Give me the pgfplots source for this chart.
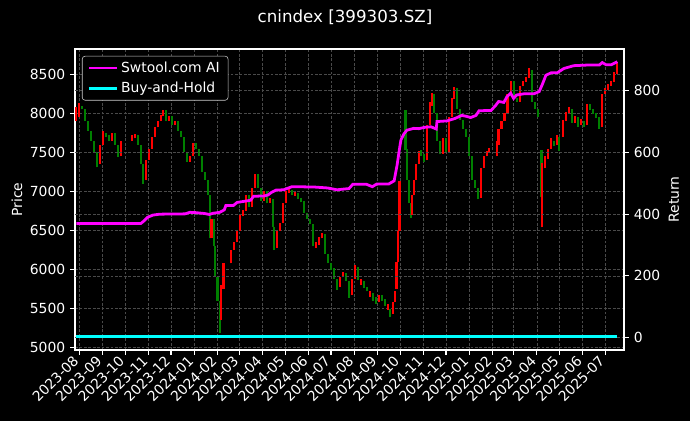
\documentclass[border=0pt]{standalone}
\usepackage{pgfplots}
\pgfplotsset{compat=1.18}
\usepackage{pgfplotstable}
\usepackage{fontspec}
\setmainfont{DejaVu Sans}

\definecolor{candleup}{HTML}{FF0000}
\definecolor{candledown}{HTML}{008000}
\definecolor{gridc}{HTML}{4A4A4A}
\definecolor{swtool}{HTML}{FF00FF}
\definecolor{bnh}{HTML}{00FFFF}

% day 0 = 2023-08-01; candles: body low / high
\pgfplotstableread{
d lo hi
-4 7900 8080
0 7950 8130
28 7350 7600
32 7600 7780
44 7650 7750
56 7450 7650
70 7650 7720
74 7680 7740
89 7150 7400
93 7400 7550
97 7550 7700
101 7700 7820
105 7820 7900
109 7900 7980
111 7960 8040
119 7900 7960
127 7850 7900
147 7380 7460
151 7460 7620
176 6400 6650
189 5350 5800
192 5750 6080
202 6080 6250
206 6250 6350
210 6350 6500
214 6500 6700
218 6680 6760
222 6750 6950
230 6800 7050
234 7050 7230
246 6880 7000
254 6850 6920
263 6280 6500
267 6500 6600
271 6600 6850
275 6850 7000
279 6980 7050
287 6940 6990
315 6280 6350
319 6320 6420
323 6400 6470
347 5780 5900
351 5900 5970
363 5680 5880
367 5880 6060
375 5800 5880
387 5650 5720
399 5580 5680
411 5480 5560
418 5430 5580
420 5580 5720
422 5750 6100
424 6100 6500
426 6500 7140
443 6700 6950
445 6950 7150
448 7150 7350
452 7350 7520
463 7400 7850
467 7850 8150
469 8100 8260
484 7480 7680
492 7500 7950
496 7950 8200
499 8180 8340
535 6920 7300
539 7300 7450
543 7450 7520
545 7500 7560
556 7450 7650
558 7600 7800
562 7800 7900
566 7900 8000
570 8000 8250
574 8250 8420
586 8150 8350
590 8350 8420
594 8400 8460
598 8450 8580
616 6540 7360
620 7300 7450
624 7420 7550
628 7550 7680
636 7600 7720
644 7700 7920
648 7900 8020
652 8000 8080
660 7880 7960
668 7850 7930
676 7850 8120
696 7820 8250
700 8250 8320
704 8300 8370
708 8350 8420
712 8400 8530
716 8500 8660
}\upT

\pgfplotstableread{
d lo hi
4 8050 8100
8 7900 8050
12 7780 7900
16 7650 7780
20 7500 7650
24 7310 7500
36 7700 7750
40 7650 7720
48 7600 7750
52 7440 7600
78 7600 7720
82 7350 7600
85 7100 7350
115 7900 8040
123 7850 7960
131 7780 7900
135 7700 7780
139 7500 7700
143 7380 7500
155 7550 7620
159 7450 7550
163 7250 7450
167 7150 7250
171 6950 7150
174 6400 6950
179 6300 6650
181 5900 6300
184 5600 5900
187 5190 5600
226 6800 6950
238 7050 7220
242 6880 7050
250 6850 7000
258 6550 6900
259 6250 6550
283 6950 7020
291 6900 6980
295 6860 6920
299 6720 6880
303 6650 6720
307 6580 6650
311 6300 6580
327 6200 6460
331 6080 6200
335 6000 6090
339 5880 6020
343 5740 5880
355 5850 5960
359 5640 5850
371 5870 6030
379 5760 5860
383 5720 5780
391 5600 5700
395 5560 5650
403 5600 5670
407 5540 5620
414 5390 5500
434 7530 8040
436 7150 7550
439 6850 7150
441 6660 6850
455 7460 7530
459 7380 7480
472 8000 8250
476 7650 8000
480 7480 7650
488 7500 7680
503 8050 8320
507 7920 8050
511 7800 7920
515 7700 7800
519 7450 7700
523 7150 7450
527 7050 7150
531 6900 7050
578 8200 8420
582 8150 8200
602 8150 8550
606 8050 8150
610 7950 8050
615 6930 7530
632 7580 7650
638 7520 7700
656 7880 8050
664 7830 7950
672 7820 7900
680 8040 8120
684 7990 8060
688 7940 8000
692 7800 7950
}\downT

\pgfplotstableread{
d r
-4 370
82 370
86 378
91 390
98 397
107 400
141 401
147 406
155 405
167 402
173 399
178 403
187 406
193 414
195 428
205 428
210 438
223 443
228 445
232 458
246 459
251 462
256 471
262 478
272 479
283 489
312 488
330 485
343 479
359 483
364 497
382 497
390 489
396 498
412 498
419 508
423 560
426 610
428 640
432 660
436 672
445 678
452 677
459 681
468 683
475 676
476 700
489 702
500 710
509 720
515 717
521 713
528 720
532 735
548 736
554 752
558 765
565 762
569 780
574 792
578 775
582 786
592 790
605 790
612 797
616 819
621 850
628 858
636 858
645 872
658 881
676 883
692 883
696 891
701 884
708 884
716 894
}\aiT

\pgfplotstableread{
d r
-4 5
200 5
400 5
600 5
716 5
}\bhT

\pgfplotsset{
  base/.style={
    at={(0,0)}, anchor=south west,
    scale only axis, width=395.28pt, height=216.72pt,
    xmin=-5.7, xmax=724.9,
    tick align=outside, major tick length=3.5pt,
    tick style={white, line width=0.8pt},
    axis line style={white, line width=0.8pt},
    tick label style={font=\fontsize{10}{12}\selectfont, text=white},
    major grid style={gridc, dash pattern=on 2pt off 1.2pt, line width=0.5pt},
    /pgf/number format/assume math mode=true,
    /pgf/number format/1000 sep={},
  },
  candle/.style={draw=#1, line width=1.6pt, mark=none, forget plot,
    quiver={u=0, v=\thisrow{hi}-\thisrow{lo}}},
}

\begin{document}
\begin{tikzpicture}
\path[fill=black, use as bounding box] (-54pt,-51.12pt) rectangle (442.8pt,252pt);

\begin{axis}[base,
  ymin=4971, ymax=8824,
  ytick={5000,5500,...,8500},
  xtick={0,31,61,92,122,153,184,213,244,274,305,335,366,397,427,458,488,519,550,578,609,639,670,700},
  xticklabels={2023-08,2023-09,2023-10,2023-11,2023-12,2024-01,2024-02,2024-03,2024-04,2024-05,2024-06,2024-07,2024-08,2024-09,2024-10,2024-11,2024-12,2025-01,2025-02,2025-03,2025-04,2025-05,2025-06,2025-07},
  xticklabel style={rotate=45, anchor=east},
  xtick pos=bottom, ytick pos=left,
  grid=major,
]
\addplot[candle=candledown] table[x=d, y=lo] {\downT};
\addplot[candle=candleup] table[x=d, y=lo] {\upT};
\end{axis}

\begin{axis}[base,
  ymin=-40, ymax=935,
  ytick={0,200,400,600,800},
  hide x axis,
  axis y line*=right,
  ymajorgrids,
  legend style={at={(0.0127,0.977)}, anchor=north west, fill=black, draw=white!80!black,
    rounded corners=2pt, text=white, font=\fontsize{10}{12}\selectfont,
    row sep=1.5pt, inner xsep=4pt, inner ysep=2pt},
  legend cell align=left,
  legend image code/.code={\draw[#1] (0pt,0pt) -- (20pt,0pt);},
]
\addplot[swtool, line width=2pt] table[x=d, y=r] {\aiT};
\addlegendentry{Swtool.com AI}
\addplot[bnh, line width=2pt] table[x=d, y=r] {\bhT};
\addlegendentry{Buy-and-Hold}
\end{axis}

\node[text=white, font=\fontsize{12}{14}\selectfont] at (194.4pt,239.76pt) {cnindex [399303.SZ]};
\node[text=white, font=\fontsize{10}{12}\selectfont, rotate=90] at (-41.76pt,108.36pt) {Price};
\node[text=white, font=\fontsize{10}{12}\selectfont, rotate=90] at (431.28pt,108.36pt) {Return};
\end{tikzpicture}
\end{document}
